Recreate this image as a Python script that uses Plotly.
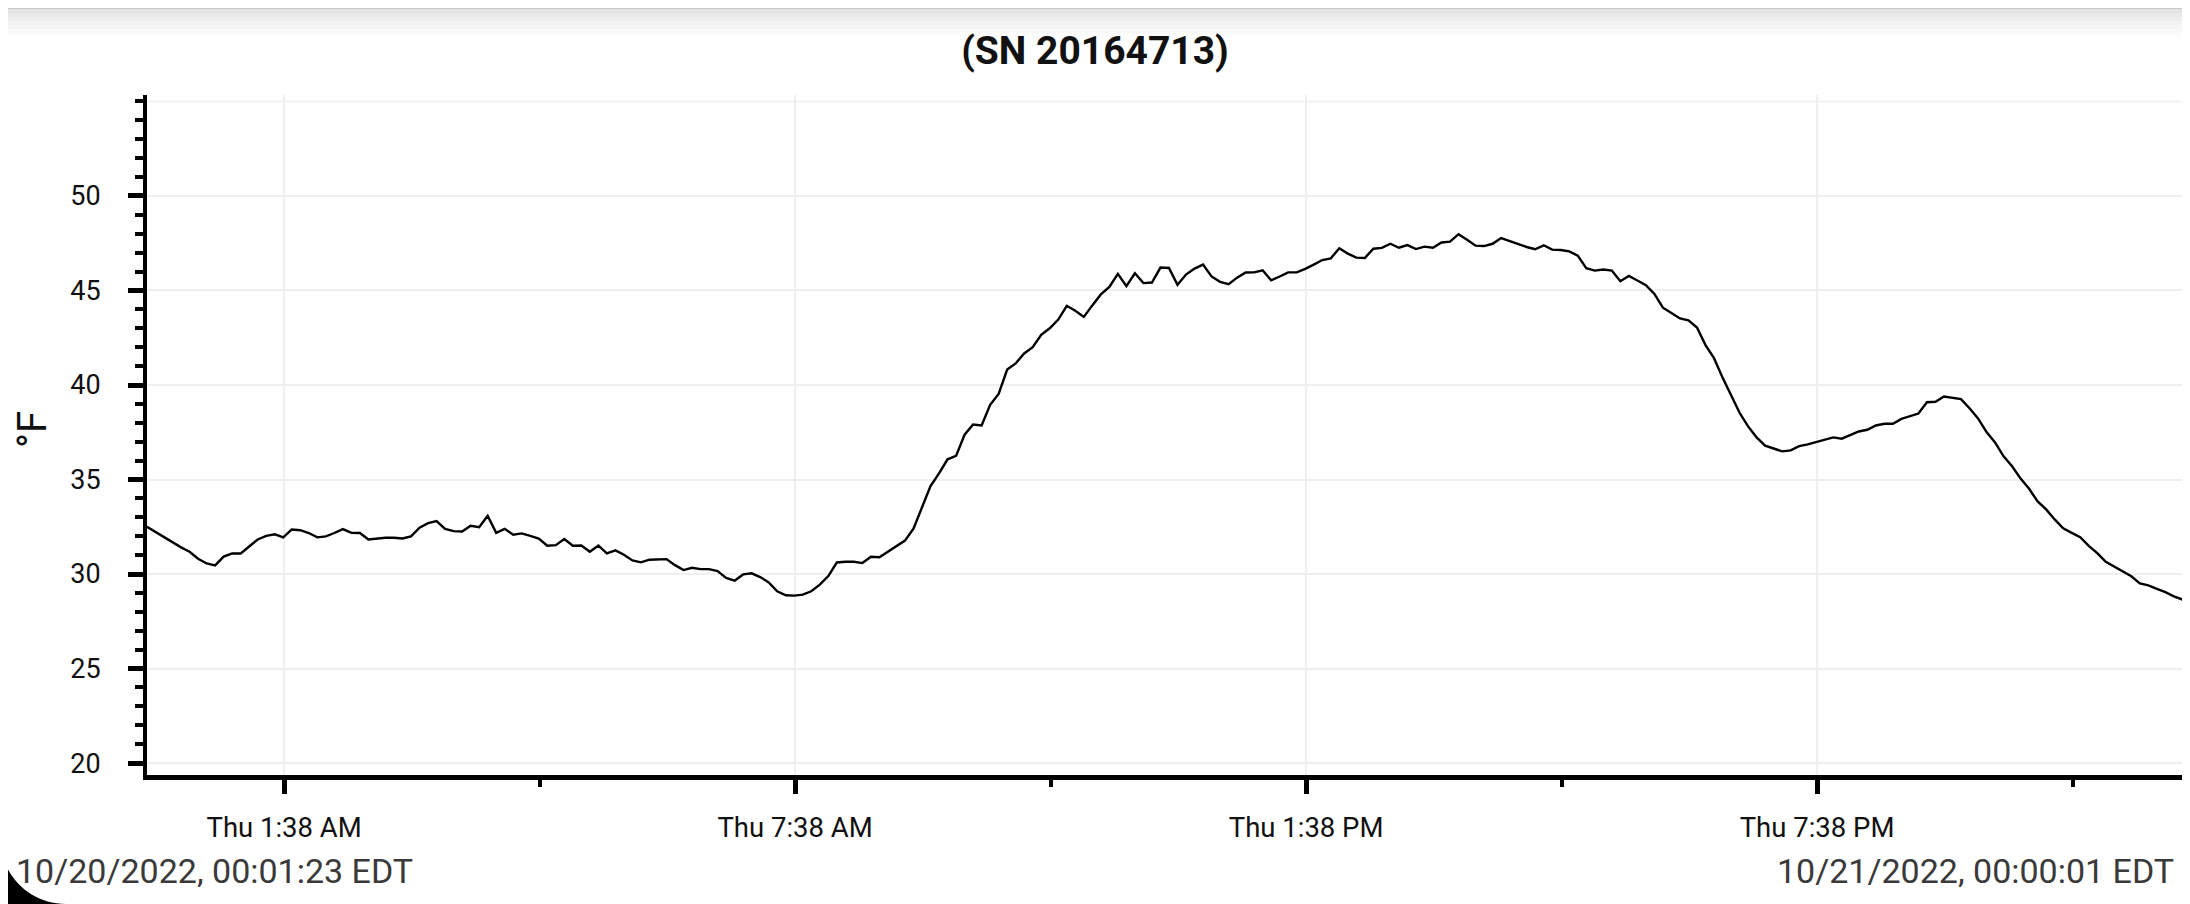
import pandas as pd
import plotly.graph_objects as go

# logger readings, one every 6 minutes from the first stamp
start_time = '2022-10-20 00:01:23'
end_time = '2022-10-21 00:00:01'

temps_night = [
    32.5, 32.22, 31.95, 31.65, 31.41, 31.18, 30.81, 30.56, 30.46, 30.92,
    31.09, 31.09, 31.44, 31.83, 32.02, 32.1, 31.94, 32.36, 32.32, 32.17,
    31.94, 31.99, 32.17, 32.38, 32.18, 32.17, 31.83, 31.87, 31.92, 31.92,
    31.88, 31.99, 32.45, 32.69, 32.8, 32.39, 32.27, 32.25, 32.55, 32.48,
    33.08, 32.18, 32.39, 32.08, 32.15, 32.02, 31.88, 31.5, 31.53, 31.85,
    31.5, 31.51, 31.18, 31.51, 31.09, 31.25, 31.02, 30.72, 30.62, 30.76,
    30.77,
]
temps_morning = [
    30.79, 30.47, 30.21, 30.33, 30.26, 30.26, 30.16, 29.79, 29.65,
    29.98, 30.04, 29.84, 29.56, 29.09, 28.88, 28.86, 28.91, 29.09, 29.44,
    29.89, 30.61, 30.65, 30.65, 30.58, 30.91, 30.89, 31.19, 31.47, 31.77,
    32.4, 33.51, 34.65, 35.32, 36.07, 36.25, 37.37, 37.91, 37.86, 38.95,
    39.53, 40.82, 41.14, 41.67, 42.0, 42.65, 43.0, 43.46, 44.19, 43.93,
    43.6, 44.21, 44.79, 45.19, 45.88, 45.23, 45.91, 45.39, 45.42, 46.21,
    46.19,
]
temps_afternoon = [
    45.3, 45.84, 46.16, 46.37, 45.74, 45.46, 45.33, 45.68, 45.95,
    45.96, 46.07, 45.54, 45.74, 45.96, 45.96, 46.14, 46.37, 46.61, 46.7,
    47.23, 46.95, 46.74, 46.72, 47.21, 47.25, 47.47, 47.26, 47.4, 47.19,
    47.32, 47.26, 47.54, 47.58, 47.98, 47.68, 47.37, 47.35, 47.47, 47.77,
    47.61, 47.46, 47.3, 47.18, 47.39, 47.16, 47.14, 47.07, 46.84, 46.18,
    46.05, 46.11, 46.05, 45.49, 45.77, 45.53, 45.28, 44.82, 44.09, 43.81,
    43.52,
]
temps_evening = [
    43.42, 43.04, 42.11, 41.42, 40.39, 39.49, 38.53, 37.81, 37.23,
    36.79, 36.65, 36.49, 36.54, 36.77, 36.86, 36.98, 37.14, 37.23, 37.16,
    37.37, 37.54, 37.63, 37.86, 37.95, 37.95, 38.21, 38.33, 38.49, 39.09,
    39.11, 39.39, 39.33, 39.25, 38.77, 38.23, 37.51, 36.96, 36.23, 35.7,
    35.05, 34.51, 33.84, 33.42, 32.89, 32.42, 32.18, 31.95, 31.49, 31.11,
    30.65, 30.4, 30.12, 29.88, 29.51, 29.4, 29.21, 29.04, 28.82, 28.65,
]

y_ticks = [20, 25, 30, 35, 40, 45, 50]
start_label = '10/20/2022, 00:01:23 EDT'
end_label = '10/21/2022, 00:00:01 EDT'
title_text = '(SN 20164713)'

temps = temps_night + temps_morning + temps_afternoon + temps_evening
times = pd.date_range(start_time, periods=len(temps), freq='6min')

# the page body has an 8px margin, so the figure sits 8px in from the corner
OFF = 8
W, H = 2190 - OFF, 904 - OFF
L, R, T, B = 139, 1, 87, 129
PW, PH = W - L - R, H - T - B


def px(x):
    # page pixel -> paper fraction
    return (x - OFF - L) / PW


def py(y):
    return (H - B - (y - OFF)) / PH


FONT = 'Roboto, sans-serif'

fig = go.Figure()
fig.add_trace(go.Scatter(
    x=times, y=temps, mode='lines',
    line=dict(color='black', width=2.4),
    hoverinfo='skip', showlegend=False,
))

shapes = [
    # unlabeled grid line at the top of the axis
    dict(type='line', xref='paper', yref='y', x0=0, x1=1, y0=55, y1=55,
         line=dict(color='#efefef', width=1.5), layer='below'),
    # grey header band
    dict(type='rect', xref='paper', yref='paper', x0=px(0), x1=px(2200), y0=py(0), y1=py(9),
         fillcolor='#c8c8c8', line=dict(width=0)),
    # dark rounded corner bottom left
    dict(type='path', xref='paper', yref='paper',
         path=f'M {px(0)},{py(838)} C {px(0)},{py(874)} {px(29)},{py(904)} {px(66)},{py(904)} '
              f'L {px(0)},{py(904)} Z',
         fillcolor='black', line=dict(width=0)),
]
band_greys = ['#e4e4e4', '#e9e9e9', '#eeeeee', '#f2f2f2', '#f6f6f6', '#f9f9f9', '#fcfcfc']
for i, c in enumerate(band_greys):
    shapes.append(dict(type='rect', xref='paper', yref='paper', x0=px(0), x1=px(2200),
                       y0=py(9 + i * 4), y1=py(13 + i * 4), fillcolor=c, line=dict(width=0)))

annotations = [
    dict(text='°F', xref='paper', yref='paper', x=px(32), y=py(430), textangle=-90,
         showarrow=False, font=dict(family=FONT, size=40, color='#111'),
         xanchor='center', yanchor='middle'),
    dict(text=start_label, xref='paper', yref='paper', x=px(14), y=py(871),
         showarrow=False, xanchor='left', yanchor='middle',
         font=dict(family=FONT, size=34, color='#3a3a3a')),
    dict(text=end_label, xref='paper', yref='paper', x=px(2176), y=py(871),
         showarrow=False, xanchor='right', yanchor='middle',
         font=dict(family=FONT, size=34, color='#3a3a3a')),
]

fig.update_layout(
    width=W, height=H,
    margin=dict(l=L, r=R, t=T, b=B),
    paper_bgcolor='white', plot_bgcolor='white',
    title=dict(text=f'<b>{title_text}</b>', x=(1095 - OFF) / W, xref='container',
               xanchor='center', y=1 - (50 - OFF) / H, yref='container', yanchor='middle',
               font=dict(family=FONT, size=39, color='#111')),
    font=dict(family=FONT, size=27, color='#111'),
    shapes=shapes,
    annotations=annotations,
)

fig.update_xaxes(
    type='date', range=[start_time, end_time],
    tick0='2022-10-20 01:38', dtick=6 * 3600 * 1000, tickformat='%a %-I:%M %p',
    ticks='outside', ticklen=14, tickwidth=5, tickcolor='black',
    showline=True, linecolor='black', linewidth=5,
    showgrid=True, gridcolor='#efefef', gridwidth=1.5, zeroline=False,
    ticklabelstandoff=10,
    minor=dict(tick0='2022-10-20 01:38', dtick=3 * 3600 * 1000, ticks='outside',
               ticklen=7, tickwidth=4, tickcolor='black', showgrid=False),
    tickfont=dict(family=FONT, size=27.5, color='#111'),
)
fig.update_yaxes(
    range=[19.37, 55.34], tickmode='array', tickvals=y_ticks,
    ticks='outside', ticklen=15, tickwidth=5, tickcolor='black',
    showline=True, linecolor='black', linewidth=4,
    showgrid=True, gridcolor='#efefef', gridwidth=1.5, zeroline=False,
    ticklabelstandoff=22,
    minor=dict(tick0=0, dtick=1, ticks='outside', ticklen=8, tickwidth=4,
               tickcolor='black', showgrid=False),
    tickfont=dict(family=FONT, size=27, color='#111'),
)

fig.write_html("out.html")
